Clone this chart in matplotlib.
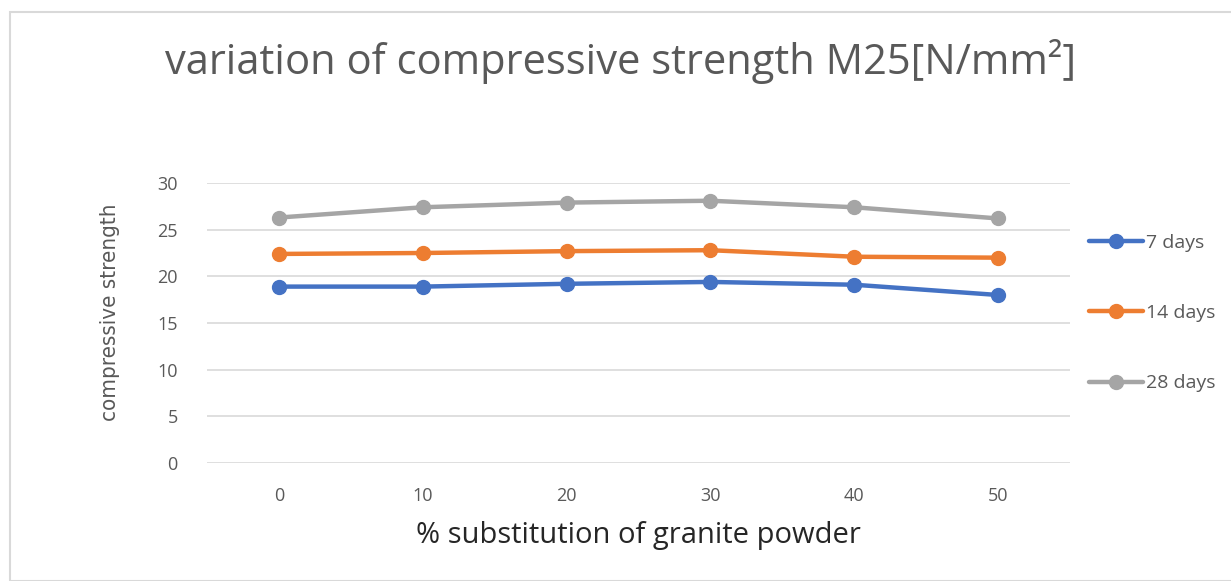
import matplotlib
matplotlib.use("Agg")
import matplotlib.pyplot as plt
from matplotlib.patches import Rectangle

categories = ["0", "10", "20", "30", "40", "50"]
days7 = [18.9, 18.9, 19.2, 19.4, 19.1, 18.0]
days14 = [22.4, 22.5, 22.7, 22.8, 22.1, 22.0]
days28 = [26.3, 27.4, 27.9, 28.1, 27.4, 26.2]
series_names = ["7 days", "14 days", "28 days"]
colors = ["#4472C4", "#ED7D31", "#A5A5A5"]

plt.rcParams['font.family'] = ['Open Sans', 'DejaVu Sans']
fig = plt.figure(figsize=(12.31, 5.81), dpi=100)
fig.patches.append(Rectangle((10/1231, 0), 1.2, 1 - 12/581, transform=fig.transFigure,
                             fill=False, edgecolor="#d9d9d9", linewidth=1.5))

ax = fig.add_axes([207/1231, 1 - 463/581, (1070-207)/1231, (463-183)/581])
x = list(range(len(categories)))
lines = []
for vals, name, c in zip([days7, days14, days28], series_names, colors):
    l, = ax.plot(x, vals, color=c, linewidth=3.2, marker='o', markersize=10, label=name,
                 solid_capstyle='round')
    lines.append(l)

ax.set_xlim(-0.5, len(categories) - 0.5)
ax.set_ylim(0, 30)
ax.set_yticks(range(0, 31, 5))
ax.set_xticks(x)
ax.set_xticklabels(categories)
ax.grid(axis='y', color="#d9d9d9", linewidth=1.2)
ax.set_axisbelow(True)
for s in ax.spines.values():
    s.set_visible(False)
ax.tick_params(length=0, labelsize=13, colors="#595959")
ax.tick_params(axis='x', pad=17)
ax.tick_params(axis='y', pad=21)

ax.set_xlabel("% substitution of granite powder", fontsize=21, color="#262626")
ax.xaxis.set_label_coords(0.5, -(535 - 463) / 280)
ax.xaxis.label.set_va('center')
ax.set_ylabel("compressive strength", fontsize=16, color="#595959",
              family=['DejaVu Sans'], fontstretch='condensed')
ax.yaxis.set_label_coords(-(207 - 110) / 863, 0.54)
ax.yaxis.label.set_va('center')

fig.text(621/1231, 1 - 62/581, "variation of compressive strength M25[N/mm²]",
         fontsize=30, color="#595959", ha='center', va='center')

leg = fig.legend(handles=lines, loc='center left', bbox_to_anchor=(1071/1231, 1 - 313/581),
                 frameon=False, fontsize=14, labelspacing=2.7, handlelength=2.8,
                 handletextpad=0.15, labelcolor="#595959")

fig.savefig("out.png", dpi=100)
